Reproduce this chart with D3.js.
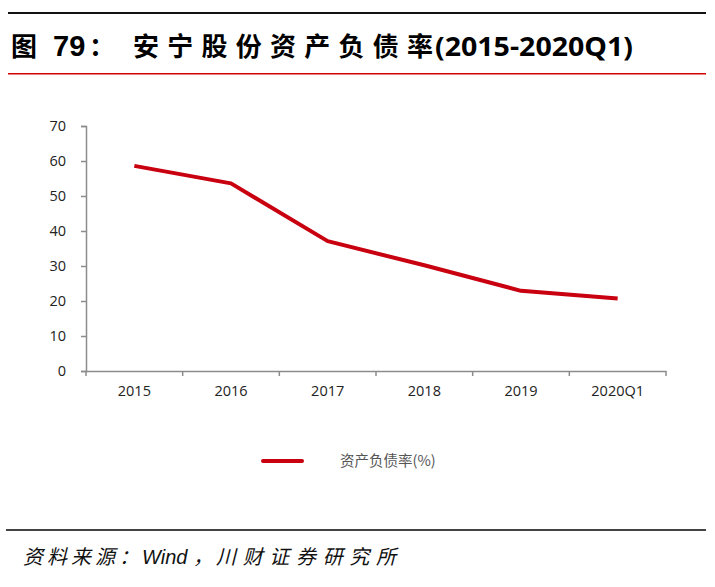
<!DOCTYPE html>
<html><head><meta charset="utf-8">
<script src="https://cdn.jsdelivr.net/npm/d3@7"></script>
<style>body{margin:0;background:#fff}</style>
</head><body>
<svg id="c" width="715" height="587"></svg>
<script>
const categories = ["2015","2016","2017","2018","2019","2020Q1"];
const values = [58.6, 53.6, 37.1, 30.2, 22.9, 20.7];
const yTicks = [0,10,20,30,40,50,60,70];
const seriesName = "资产负债率(%)";
const titleParts = ["图", "79", "：", "安宁股份资产负债率", "(2015-2020Q1)"];
const sourceParts = ["资料来源：", "Wind", "，", "川财证券研究所"];

const svg = d3.select("#c");
const cjk = "'Noto Sans CJK SC', sans-serif";

svg.append("rect").attr("x",8).attr("y",12).attr("width",698).attr("height",2).attr("fill","#111");

// Title
const tY = 56;
const tStyle = [
  {x:11, f:cjk, s:26, len:null},
  {x:53, f:"'Liberation Sans', Arial, sans-serif", s:29, len:null},
  {x:89, f:cjk, s:26, len:null},
  {x:133, f:cjk, s:26, len:300},
  {x:435, f:"'Open Sans', sans-serif", s:27, len:198}
];
titleParts.forEach((t,i)=>{
  const st = tStyle[i];
  const el = svg.append("text").attr("x",st.x).attr("y",tY).attr("font-family",st.f)
    .attr("font-weight","bold").attr("font-size",st.s).attr("fill","#000").text(t);
  if (st.len) el.attr("textLength",st.len).attr("lengthAdjust", i===4 ? "spacingAndGlyphs" : "spacing");
});
svg.append("rect").attr("x",8).attr("y",73).attr("width",698).attr("height",1.5).attr("fill","#d40000");

const x = d3.scaleBand().domain(categories).range([86,666]);
const y = d3.scaleLinear().domain([0,70]).range([371,126]);

const gx = svg.append("g").attr("transform","translate(0,371)")
  .call(d3.axisBottom(x).tickSize(0).tickPadding(15));
gx.select(".domain").attr("stroke","#8c8c8c").attr("stroke-width",1.5);
gx.selectAll("text").attr("font-family","'Open Sans', sans-serif").attr("font-size",14.5).attr("fill","#222");
const bounds = [86].concat(categories.map(c=>x(c)+x.bandwidth()));
svg.append("g").selectAll("line").data(bounds).join("line")
  .attr("x1",d=>d).attr("x2",d=>d).attr("y1",371).attr("y2",376).attr("stroke","#8c8c8c").attr("stroke-width",1.5);

const gy = svg.append("g").attr("transform","translate(86,0)")
  .call(d3.axisLeft(y).tickValues(yTicks).tickSize(5).tickPadding(15));
gy.select(".domain").attr("stroke","#8c8c8c").attr("stroke-width",1.5);
gy.selectAll(".tick line").attr("stroke","#8c8c8c").attr("stroke-width",1.5);
gy.selectAll("text").attr("font-family","'Open Sans', sans-serif").attr("font-size",14.5).attr("fill","#222");

const line = d3.line().x((d,i)=>x(categories[i])+x.bandwidth()/2).y(d=>y(d));
svg.append("path").datum(values).attr("d",line).attr("fill","none")
  .attr("stroke","#c8000f").attr("stroke-width",4).attr("stroke-linejoin","round");

svg.append("line").attr("x1",263).attr("x2",302).attr("y1",461).attr("y2",461)
  .attr("stroke","#c8000f").attr("stroke-width",4).attr("stroke-linecap","round");
svg.append("text").attr("x",340).attr("y",466).attr("font-family",cjk).attr("font-size",14.5)
  .attr("fill","#555").text(seriesName);

svg.append("rect").attr("x",6).attr("y",529).attr("width",700).attr("height",2).attr("fill","#444");

// Source
const sY = 564;
const sStyle = [
  {x:23, f:cjk, s:20, len:116},
  {x:142, f:"'Liberation Sans', Arial, sans-serif", s:20, len:null},
  {x:193, f:cjk, s:20, len:null},
  {x:216, f:cjk, s:20, len:180}
];
sourceParts.forEach((t,i)=>{
  const st = sStyle[i];
  const el = svg.append("text").attr("x",st.x).attr("y",sY).attr("font-family",st.f)
    .attr("font-style","italic").attr("font-size",st.s).attr("fill","#111").text(t);
  if (st.len) el.attr("textLength",st.len).attr("lengthAdjust","spacing");
});
</script>
</body></html>
